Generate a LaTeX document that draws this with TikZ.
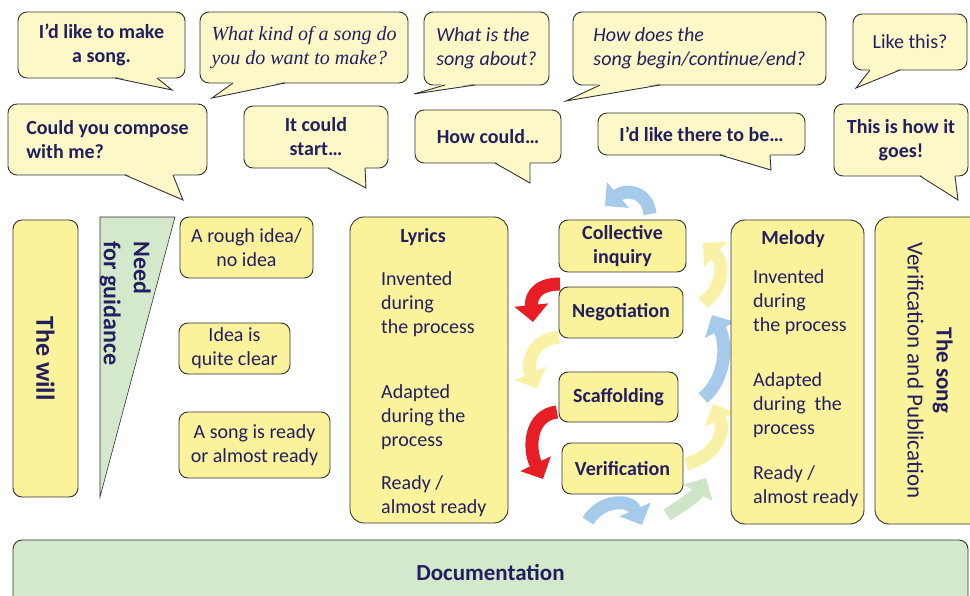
\documentclass[tikz,border=0pt]{standalone}
\usepackage{fontspec}
\setmainfont{Carlito}
\newfontfamily\camb{Liberation Serif}
\usetikzlibrary{arrows.meta}
\definecolor{navy}{RGB}{35,31,95}
\definecolor{bubfill}{RGB}{253,248,200}
\definecolor{boxfill}{RGB}{251,242,156}
\definecolor{grn}{RGB}{212,233,203}
\definecolor{edge}{RGB}{50,50,50}
\definecolor{ablue}{RGB}{166,202,234}
\definecolor{ayel}{RGB}{249,242,166}
\definecolor{ared}{RGB}{232,30,38}
\definecolor{agrn}{RGB}{207,229,200}
\newcommand\fs{\fontsize{20}{24}\selectfont}
\newcommand\fsL{\fontsize{23}{29}\selectfont}
\newcommand\mybox[7]{%
 \pgfmathsetmacro\mbw{#5-#3}\pgfmathsetmacro\mbh{#6-#4}%
 \pgfmathsetmacro\mbx{(#3+#5)/2}\pgfmathsetmacro\mby{(#4+#6)/2}%
 \node[#1, minimum width=\mbw pt, minimum height=\mbh pt] (#2) at (\mbx,\mby) {#7};}
\newcommand\tail[5]{%
 \fill[bubfill] (#2,#1-1.5) -- (#4,#5) -- (#3,#1-1.5) -- cycle;
 \draw[tailline] (#2,#1) -- (#4,#5) -- (#3,#1);}
\begin{document}
\begin{tikzpicture}[x=1pt,y=-1pt,
  every node/.style={text=navy, font=\fs},
  bubble/.style={draw=edge, line width=0.9pt, fill=bubfill, rounded corners=9pt, inner sep=0pt},
  ybox/.style={draw=edge, line width=0.9pt, fill=boxfill, rounded corners=9pt, inner sep=0pt},
  gbox/.style={draw=edge, line width=0.9pt, fill=grn, rounded corners=9pt, inner sep=0pt},
  tailline/.style={draw=edge, line width=0.9pt, line join=miter},
  carrow/.style={line width=13pt, -{Triangle[width=33pt,length=17pt]}},
  txt/.style={anchor=west, align=left, inner sep=0pt},
]
\useasboundingbox (0,0) rectangle (970,596);

% speech bubbles
\mybox{bubble,align=center,font=\fs\bfseries}{b1}{18}{12}{185}{78}{I’d like to make\\a song.}
\tail{78}{115}{157}{172}{90}
\mybox{bubble,align=left,font=\camb\itshape\fs}{b2}{200}{12}{408}{83}{What kind of a song do\\you do want to make?}
\tail{83}{233}{285}{212}{98}
\mybox{bubble,align=left,font=\fs\itshape}{b3}{424}{12}{549}{85}{What is the\\song about?}
\tail{85}{445}{475}{414}{94}
\mybox{bubble,align=left,font=\fs\itshape}{b4}{573}{12}{826}{85}{How does the\\song begin/continue/end?}
\tail{85}{600}{660}{566}{101}
\mybox{bubble,align=center}{b5}{853}{14}{967}{70}{Like this?}
\tail{70}{870}{900}{856}{88}
\mybox{bubble,align=left,font=\fs\bfseries}{b6}{8}{104}{207}{175}{Could you compose\\with me?}
\tail{175}{125}{173}{183}{200}
\mybox{bubble,align=center,font=\fs\bfseries}{b7}{244}{106}{388}{168}{It could\\start…}
\tail{168}{328}{365}{366}{188}
\mybox{bubble,align=center,font=\fs\bfseries}{b8}{415}{110}{561}{163}{How could…}
\tail{163}{495}{530}{530}{183}
\mybox{bubble,align=center,font=\fs\bfseries}{b9}{598}{113}{805}{155}{I’d like there to be…}
\tail{155}{720}{770}{771}{170}
\mybox{bubble,align=center,font=\fs\bfseries}{b10}{834}{104}{968}{176}{This is how it\\goes!}
\tail{176}{920}{955}{958}{200}

% left column
\node[ybox, rotate=-90, minimum width=277pt, minimum height=65pt, font=\fontsize{26}{30}\selectfont\bfseries] (will) at (45.5,358.5) {The will};
\draw[draw=edge, fill=grn, line width=0.6pt] (100,217) -- (175,217) -- (100,497) -- cycle;
\node[rotate=-90, anchor=north west, align=left, inner sep=0pt, font=\fontsize{24}{30}\selectfont\bfseries] (need) at (151,241) {Need\\for guidance};

\mybox{ybox,align=center}{idea1}{180}{217}{313}{278}{A rough idea/\\no idea}
\mybox{ybox,align=center}{idea2}{179}{323}{290}{374}{Idea is\\quite clear}
\mybox{ybox,align=center}{idea3}{179}{412}{330}{478}{A song is ready\\or almost ready}

% lyrics
\mybox{ybox,rounded corners=14pt}{lyr}{350}{217}{508}{523}{}
\node[font=\fs\bfseries] (lyrt) at (423,237) {Lyrics};
\node[txt] (lyr1) at (381,304) {Invented\\during\\the process};
\node[txt] (lyr2) at (381,417) {Adapted\\during the\\process};
\node[txt] (lyr3) at (381,496) {Ready /\\almost ready};

% curved arrows
\draw[carrow, ablue] (650,214) .. controls (648,192) and (626,188) .. (605,206);
\draw[carrow, ared] (560,284) .. controls (532,284) and (531,302) .. (533,322);
\draw[carrow, ayel] (559,337) .. controls (530,340) and (527,365) .. (537,389);
\draw[carrow, ared] (557,412) .. controls (530,415) and (528,448) .. (543,479);
\draw[carrow, ablue] (588,521) .. controls (600,500) and (630,498) .. (642,525);
\draw[carrow, agrn] (667,515) .. controls (684,504) and (696,496) .. (706,478);
\draw[carrow, ayel] (686,464) .. controls (716,456) and (726,432) .. (713,404);
\draw[carrow, ablue] (703,398) .. controls (725,380) and (728,345) .. (712,315);
\draw[carrow, ayel] (703,303) .. controls (725,286) and (724,262) .. (703,243);

% process boxes
\mybox{ybox,align=center,font=\fs\bfseries}{coll}{559}{220}{686}{272}{Collective\\inquiry}
\mybox{ybox,align=center,font=\fs\bfseries}{neg}{559}{287}{683}{338}{Negotiation}
\mybox{ybox,align=center,font=\fs\bfseries}{sca}{559}{372}{678}{422}{Scaffolding}
\mybox{ybox,align=center,font=\fs\bfseries}{ver}{562}{443}{683}{494}{Verification}

% melody
\mybox{ybox,rounded corners=14pt}{mel}{731}{220}{864}{524}{}
\node[font=\fs\bfseries] (melt) at (793,239) {Melody};
\node[txt] (mel1) at (753,302) {Invented\\during\\the process};
\node[txt] (mel2) at (753,405) {Adapted\\during\ \ the\\process};
\node[txt] (mel3) at (753,486) {Ready /\\almost ready};

% the song
\node[ybox, rounded corners=14pt, rotate=-90, minimum width=307pt, minimum height=110pt, align=center, font=\fsL] (song) at (930,370.5) {{\bfseries The song}\\Verification and Publication};

% documentation
\mybox{gbox,font=\fsL\bfseries}{doc}{13}{540}{968}{605}{Documentation}
\end{tikzpicture}
\end{document}
